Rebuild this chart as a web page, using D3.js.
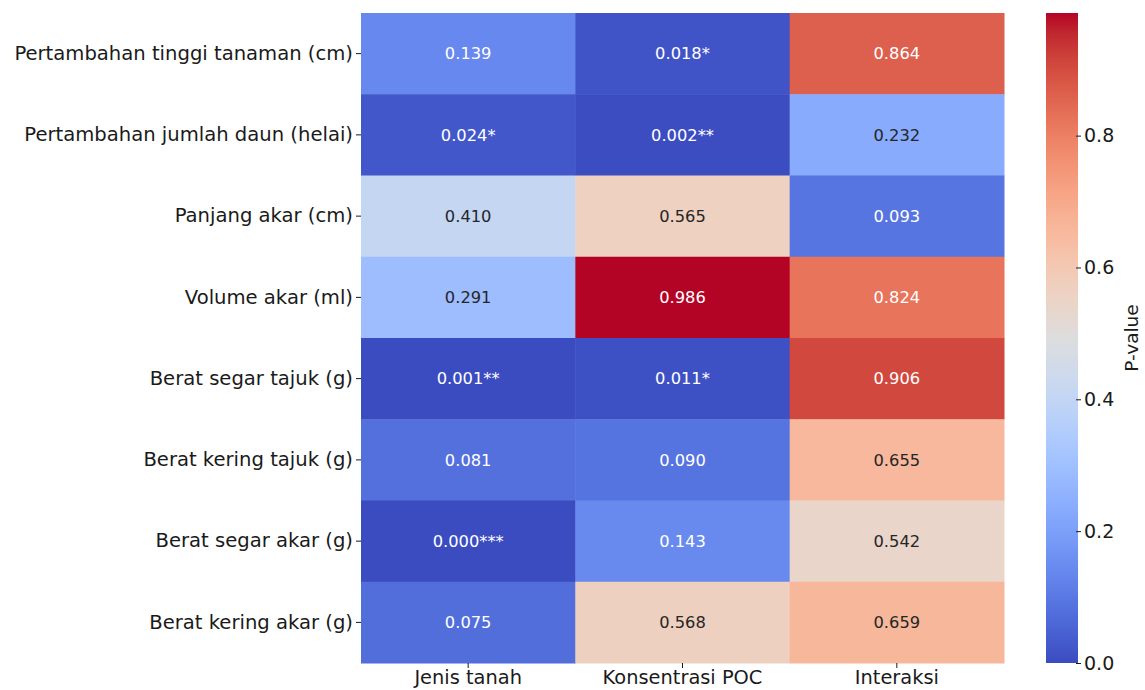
<!DOCTYPE html>
<html>
<head>
<meta charset="utf-8">
<script src="https://cdn.jsdelivr.net/npm/d3@7"></script>
<style>
  body { margin: 0; background: #fff; }
</style>
</head>
<body>
<div id="chart"></div>
<script>
// rows and columns of the table
const rowLabels = [
  'Pertambahan tinggi tanaman (cm)',
  'Pertambahan jumlah daun (helai)',
  'Panjang akar (cm)',
  'Volume akar (ml)',
  'Berat segar tajuk (g)',
  'Berat kering tajuk (g)',
  'Berat segar akar (g)',
  'Berat kering akar (g)'
];
const colLabels = ['Jenis tanah', 'Konsentrasi POC', 'Interaksi'];

// p-values per column (same order as rowLabels)
const jenisTanah = [0.139, 0.024, 0.410, 0.291, 0.001, 0.081, 0.000, 0.075];
const konsentrasiPOC = [0.018, 0.002, 0.565, 0.986, 0.011, 0.090, 0.143, 0.568];
const interaksi = [0.864, 0.232, 0.093, 0.824, 0.906, 0.655, 0.542, 0.659];

const colorbarTicks = [0.0, 0.2, 0.4, 0.6, 0.8];

// matplotlib coolwarm stops
const coolwarm = [
  [0.2298, 0.2987, 0.7537], [0.2662, 0.3531, 0.8015], [0.3039, 0.4065, 0.8450],
  [0.3428, 0.4588, 0.8837], [0.3830, 0.5094, 0.9174], [0.4244, 0.5581, 0.9456],
  [0.4667, 0.6046, 0.9682], [0.5096, 0.6483, 0.9848], [0.5530, 0.6889, 0.9954],
  [0.5963, 0.7261, 0.9998], [0.6392, 0.7596, 0.9982], [0.6813, 0.7890, 0.9904],
  [0.7222, 0.8140, 0.9766], [0.7615, 0.8343, 0.9569], [0.7987, 0.8498, 0.9317],
  [0.8335, 0.8602, 0.9011], [0.8654, 0.8654, 0.8654], [0.8978, 0.8489, 0.8209],
  [0.9241, 0.8274, 0.7745], [0.9445, 0.8009, 0.7267], [0.9589, 0.7698, 0.6780],
  [0.9673, 0.7341, 0.6288], [0.9700, 0.6943, 0.5794], [0.9668, 0.6504, 0.5303],
  [0.9580, 0.6028, 0.4818], [0.9437, 0.5518, 0.4342], [0.9239, 0.4973, 0.3880],
  [0.8990, 0.4396, 0.3432], [0.8692, 0.3783, 0.3003], [0.8346, 0.3129, 0.2593],
  [0.7956, 0.2413, 0.2205], [0.7525, 0.1572, 0.1841], [0.7057, 0.0156, 0.1502]
].map(c => d3.rgb(c[0] * 255, c[1] * 255, c[2] * 255).formatHex());

const FONT = "'DejaVu Sans', sans-serif";

const columns = [jenisTanah, konsentrasiPOC, interaksi];
const cells = [];
columns.forEach((vals, c) => {
  vals.forEach((v, r) => cells.push({ row: rowLabels[r], col: colLabels[c], value: v }));
});

function stars(p) {
  if (p < 0.001) return '***';
  if (p < 0.01) return '**';
  if (p < 0.05) return '*';
  return '';
}

const W = 1145, H = 690;
const margin = { top: 13, left: 361, right: 141, bottom: 27 };
const width = W - margin.left - margin.right;
const height = H - margin.top - margin.bottom;

const vmax = d3.max(cells, d => d.value);
const interp = d3.interpolateRgbBasis(coolwarm);
const color = v => interp(Math.max(0, Math.min(1, v / vmax)));

const svg = d3.select('#chart').append('svg')
  .attr('width', W)
  .attr('height', H)
  .attr('font-family', FONT);

const g = svg.append('g')
  .attr('transform', `translate(${margin.left},${margin.top})`);

const x = d3.scaleBand().domain(colLabels).range([0, width]);
const y = d3.scaleBand().domain(rowLabels).range([0, height]);

g.selectAll('rect.cell')
  .data(cells)
  .enter()
  .append('rect')
  .attr('class', 'cell')
  .attr('x', d => x(d.col))
  .attr('y', d => y(d.row))
  .attr('width', x.bandwidth() + 0.5)
  .attr('height', y.bandwidth() + 0.5)
  .attr('fill', d => color(d.value));

// seaborn style text colour by luminance
function lum(c) {
  const rgb = d3.rgb(c);
  const f = v => {
    v = v / 255;
    return v <= 0.03928 ? v / 12.92 : Math.pow((v + 0.055) / 1.055, 2.4);
  };
  return 0.2126 * f(rgb.r) + 0.7152 * f(rgb.g) + 0.0722 * f(rgb.b);
}

g.selectAll('text.annot')
  .data(cells)
  .enter()
  .append('text')
  .attr('class', 'annot')
  .attr('x', d => x(d.col) + x.bandwidth() / 2)
  .attr('y', d => y(d.row) + y.bandwidth() / 2)
  .attr('dy', '0.35em')
  .attr('text-anchor', 'middle')
  .attr('font-family', FONT)
  .attr('font-size', 16.3)
  .attr('fill', d => lum(color(d.value)) > 0.408 ? '#262626' : '#ffffff')
  .text(d => d.value.toFixed(3) + stars(d.value));

const yAxis = d3.axisLeft(y).tickSize(5).tickPadding(3);
const yg = g.append('g').call(yAxis).attr('font-family', FONT);
yg.select('.domain').remove();
yg.selectAll('text').attr('font-size', 19.6).attr('fill', '#1a1a1a');
yg.selectAll('line').attr('stroke', '#1a1a1a');

const xAxis = d3.axisBottom(x).tickSize(5).tickPadding(2);
const xg = g.append('g').attr('transform', `translate(0,${height})`).call(xAxis).attr('font-family', FONT);
xg.select('.domain').remove();
xg.selectAll('text').attr('font-size', 19.4).attr('fill', '#1a1a1a');
xg.selectAll('line').attr('stroke', '#1a1a1a');

// colorbar
const cbX = 1046, cbW = 32;
const cScale = d3.scaleLinear().domain([0, vmax]).range([H - margin.bottom, margin.top]);

const defs = svg.append('defs');
const grad = defs.append('linearGradient')
  .attr('id', 'cbGrad')
  .attr('x1', 0).attr('y1', 1).attr('x2', 0).attr('y2', 0);
coolwarm.forEach((c, i) => {
  grad.append('stop')
    .attr('offset', i / (coolwarm.length - 1))
    .attr('stop-color', c);
});

svg.append('rect')
  .attr('x', cbX)
  .attr('y', margin.top)
  .attr('width', cbW)
  .attr('height', height)
  .attr('fill', 'url(#cbGrad)');

const cAxis = d3.axisRight(cScale)
  .tickValues(colorbarTicks)
  .tickFormat(d3.format('.1f'))
  .tickSize(5)
  .tickPadding(3);
const cg = svg.append('g').attr('transform', `translate(${cbX + cbW - 2},0)`).call(cAxis).attr('font-family', FONT);
cg.select('.domain').remove();
cg.selectAll('text').attr('font-size', 19).attr('fill', '#1a1a1a');
cg.selectAll('line').attr('stroke', '#1a1a1a');

svg.append('text')
  .attr('transform', `translate(1138,${margin.top + height / 2}) rotate(-90)`)
  .attr('text-anchor', 'middle')
  .attr('font-family', FONT)
  .attr('font-size', 18.5)
  .attr('fill', '#1a1a1a')
  .text('P-value');
</script>
</body>
</html>
